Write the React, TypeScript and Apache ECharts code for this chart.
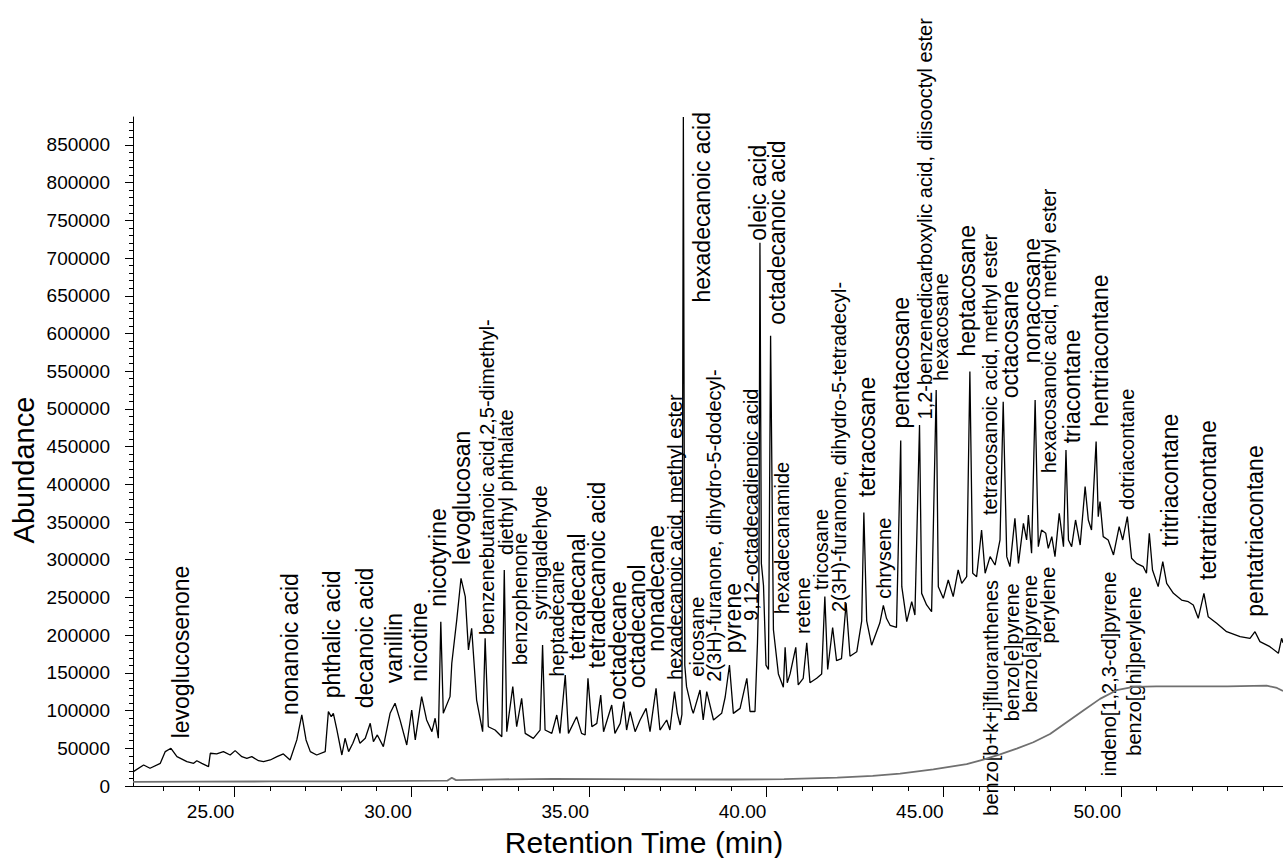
import React, { useEffect, useRef } from "react";
import * as echarts from "echarts";

// ---------- axis ranges & ticks ----------
const X_RANGE = [22.14, 54.57];
const Y_RANGE = [0, 887000];
const X_MAJOR_TICKS = [25, 30, 35, 40, 45, 50];
const X_MINOR_TICKS = [23, 24, 25, 26, 27, 28, 29, 30, 31, 32, 33, 34, 35, 36, 37, 38, 39, 40, 41, 42, 43, 44, 45, 46, 47, 48, 49, 50, 51, 52, 53, 54];
const Y_MAJOR_TICKS = [0, 50000, 100000, 150000, 200000, 250000, 300000, 350000, 400000, 450000, 500000, 550000, 600000, 650000, 700000, 750000, 800000, 850000];
const Y_MINOR_TICKS = Array.from({ length: 89 }, (_, i) => i * 10000);

// ---------- sample TIC (retention time min, abundance) ----------
const TIC_EARLY: [number, number][] = [
  [22.15, 19100], [22.44, 27900], [22.62, 23500], [22.91, 30100], [23.05, 45600], [23.21, 50000], [23.38, 38900],
  [23.66, 32300], [23.85, 30100], [23.94, 33500], [24.08, 30100], [24.27, 25700], [24.32, 43400], [24.5, 42500],
  [24.69, 45600], [24.88, 41100], [25.02, 46900], [25.21, 38900], [25.35, 36700], [25.49, 38900], [25.68, 33500],
  [25.82, 32300], [26.01, 34500], [26.2, 38900], [26.38, 42500], [26.57, 34500], [26.76, 61100], [26.9, 94200],
  [27.02, 61100], [27.14, 45600], [27.32, 41100], [27.56, 45600], [27.65, 98600], [27.73, 92000], [27.79, 96400],
  [27.89, 74300], [28.03, 41100], [28.12, 63300], [28.22, 45600], [28.34, 56600], [28.45, 69900], [28.54, 56600],
  [28.69, 63300], [28.83, 83100], [28.92, 58800], [29.03, 67700], [29.2, 52200], [29.39, 96400], [29.53, 109700],
  [29.67, 87600], [29.86, 54400], [30.0, 100800], [30.1, 61100], [30.28, 118500], [30.42, 87600], [30.57, 72100],
  [30.66, 89800], [30.75, 63300], [30.82, 217900], [30.89, 96400], [31.08, 118500], [31.13, 162700], [31.27, 220200],
  [31.39, 275400], [31.51, 251100], [31.6, 180400], [31.69, 209100], [31.83, 114000],
];
const TIC_MID: [number, number][] = [
  [32.0, 72000], [32.07, 195800], [32.16, 78600], [32.35, 74200], [32.54, 65400], [32.61, 286400], [32.68, 72000],
  [32.85, 131700], [32.96, 78600], [33.1, 116200], [33.2, 69800], [33.43, 63200], [33.62, 74200], [33.69, 186900],
  [33.76, 74200], [33.95, 69800], [34.09, 94100], [34.18, 69800], [34.33, 147200], [34.42, 69800], [34.65, 91900],
  [34.79, 69800], [34.89, 67600], [34.97, 142700], [35.08, 78600], [35.22, 83000], [35.33, 120600], [35.41, 72000],
  [35.64, 107400], [35.73, 69800], [35.88, 83000], [35.98, 111800], [36.06, 74200], [36.16, 98500], [36.3, 72000],
  [36.44, 87500], [36.61, 102900], [36.72, 72000], [36.89, 129500], [37.0, 74200], [37.19, 87500], [37.28, 74200],
  [37.41, 125100], [37.49, 96300], [37.57, 80900],
];
const TIC_ACIDS: [number, number][] = [
  [37.62, 95000], [37.66, 887000], [37.7, 160000], [37.75, 131700], [37.9, 101700], [37.94, 96300], [38.13, 127300],
  [38.22, 87500], [38.32, 125100], [38.51, 87500], [38.74, 96300], [38.84, 118000], [38.96, 160400], [39.07, 96300],
  [39.26, 102900], [39.45, 142800], [39.54, 98800], [39.68, 98800], [39.75, 189700], [39.79, 265900], [39.82, 720200],
  [39.86, 295000], [39.92, 265900], [39.99, 160300], [40.06, 154500], [40.12, 597100], [40.2, 207200], [40.34, 148600],
  [40.48, 131000], [40.53, 183800], [40.59, 136900], [40.67, 148600], [40.83, 183800], [40.9, 134000], [41.04, 142800],
  [41.14, 189700], [41.23, 136900], [41.42, 142800], [41.56, 148600], [41.65, 251200], [41.73, 154500], [41.87, 210200],
  [41.98, 166200], [42.12, 169000], [42.25, 242400], [42.36, 172100], [42.55, 177900], [42.69, 219000], [42.75, 362600],
  [42.83, 219000], [42.97, 186700], [43.2, 216000], [43.3, 239500], [43.39, 222000], [43.49, 213100], [43.67, 210200],
  [43.79, 458100],
];
const TIC_LATE: [number, number][] = [
  [43.82, 264300], [43.96, 217900], [44.1, 244400], [44.19, 226700], [44.32, 478700], [44.38, 255400], [44.52, 240000],
  [44.66, 231100], [44.79, 525100], [44.85, 264300], [44.99, 248800], [45.13, 273100], [45.27, 251000], [45.41, 286400],
  [45.51, 268700], [45.65, 277500], [45.74, 549400], [45.82, 282000], [45.93, 277500], [46.07, 339400], [46.17, 282000],
  [46.31, 304100], [46.45, 293000], [46.59, 326200], [46.68, 509600], [46.78, 304100], [46.87, 290800], [47.01, 354900],
  [47.11, 295200], [47.25, 348300], [47.34, 326200], [47.39, 359300], [47.48, 308500], [47.58, 511800], [47.67, 317300],
  [47.76, 339400], [47.88, 335000], [47.95, 315100], [48.05, 330600], [48.14, 304100], [48.26, 361500], [48.38, 317300],
  [48.45, 445500], [48.52, 326200], [48.61, 317300], [48.72, 352700], [48.85, 319500], [48.99, 396900], [49.08, 352700],
  [49.17, 339400], [49.3, 456600], [49.36, 357100], [49.41, 377000], [49.5, 330600], [49.64, 326200], [49.79, 306300],
  [49.95, 343800], [50.05, 326200], [50.18, 357100], [50.3, 301900], [50.44, 295200], [50.63, 290800], [50.72, 282000],
  [50.8, 335000], [50.89, 286400], [51.05, 264300], [51.18, 297400], [51.29, 268700], [51.48, 255400], [51.71, 246600],
  [51.9, 244400], [52.04, 240000], [52.18, 222300], [52.34, 255400], [52.46, 224500], [52.7, 215700], [52.98, 204600],
  [53.36, 198000], [53.64, 195800], [53.78, 204600], [53.92, 191400], [54.2, 184700], [54.44, 175900], [54.53, 195800],
  [54.57, 190000],
];

// ---------- blank / reference trace ----------
const BLANK_TRACE: [number, number][] = [
  [22.14, 5500], [24, 5800], [26, 6000], [28, 6200], [30, 6800], [31.0, 7000], [31.13, 11000], [31.25, 7800],
  [32.5, 8800], [34, 9500], [35.5, 9200], [37, 8800], [39, 8600], [40.5, 9000], [42, 11000], [43, 13500],
  [43.77, 16500], [44.71, 22000], [45.65, 29000], [46.12, 35000], [46.59, 42000], [47.06, 49500], [47.53, 58000],
  [48.0, 69000], [48.47, 84500], [48.94, 100000], [49.41, 115500], [49.88, 127000], [50.35, 131500], [51.0, 132000],
  [52, 132000], [53, 132000], [54.11, 133000], [54.4, 130000], [54.57, 126000],
];

// ---------- peak annotations: [name, retention time, abundance at text start] ----------
const LABELS_LARGE: [string, number, number][] = [
  ["levoglucosenone", 23.49, 63200],
  ["nonanoic acid", 26.57, 94100],
  ["phthalic acid", 27.75, 116300],
  ["decanoic acid", 28.69, 103000],
  ["vanillin", 29.5, 136200],
  ["nicotine", 30.21, 138300],
  ["nicotyrine", 30.75, 237800],
  ["levoglucosan", 31.41, 293000],
  ["tetradecanal", 34.65, 167100],
  ["tetradecanoic acid", 35.22, 156100],
  ["octadecane", 35.83, 114000],
  ["octadecanol", 36.35, 129500],
  ["nonadecane", 36.89, 178100],
  ["pyrene", 39.05, 175900],
  ["hexadecanoic acid", 38.18, 641000],
  ["oleic acid", 39.77, 723000],
  ["octadecanoic acid", 40.31, 611700],
  ["tetracosane", 42.83, 383200],
  ["pentacosane", 43.79, 473900],
  ["heptacosane", 45.67, 569300],
  ["octacosane", 46.87, 514100],
  ["nonacosane", 47.48, 560500],
  ["triacontane", 48.61, 454400],
  ["hentriacontane", 49.41, 476400],
  ["tritriacontane", 51.38, 317300],
  ["tetratriacontane", 52.46, 273200],
  ["pentatriacontane", 53.78, 224500],
];
const LABELS_SMALL: [string, number, number][] = [
  ["benzenebutanoic acid,2,5-dimethyl-", 32.13, 200200],
  ["diethyl phthalate", 32.66, 306300],
  ["benzophenone", 33.04, 160400],
  ["syringaldehyde", 33.62, 220100],
  ["heptadecane", 34.09, 145000],
  ["hexadecanoic acid, methyl ester", 37.43, 140600],
  ["eicosane", 38.04, 145000],
  ["2(3H)-furanone, dihydro-5-dodecyl-", 38.53, 138300],
  ["9,12-octadecadienoic acid", 39.56, 218900],
  ["hexadecanamide", 40.43, 227800],
  ["retene", 41.02, 201400],
  ["tricosane", 41.53, 259900],
  ["2(3H)-furanone, dihydro-5-tetradecyl-", 42.06, 230700],
  ["chrysene", 43.32, 248200],
  ["1,2-benzenedicarboxylic acid, diisooctyl ester", 44.48, 486000],
  ["hexacosane", 44.92, 537000],
  ["tetracosanoic acid, methyl ester", 46.31, 359300],
  ["hexacosanoic acid, methyl ester", 47.97, 414600],
  ["dotriacontane", 50.18, 366000],
];
// labels hanging below the trace: [name, retention time, abundance at text end (top)]
const LABELS_BELOW: [string, number, number][] = [
  ["benzo[b+k+j]fluoranthenes", 46.33, 273200],
  ["benzo[e]pyrene", 46.92, 268800],
  ["benzo[a]pyrene", 47.44, 279800],
  ["perylene", 47.95, 290800],
  ["indeno[1,2,3-cd]pyrene", 49.67, 284200],
  ["benzo[ghi]perylene", 50.37, 264300],
];

const FONT = 'Arial, "Liberation Sans", Helvetica, sans-serif';

export default function App() {
  const ref = useRef<HTMLDivElement>(null);

  useEffect(() => {
    if (!ref.current) return;
    const chart = echarts.init(ref.current, undefined, { renderer: "svg" });
    const tic = [...TIC_EARLY, ...TIC_MID, ...TIC_ACIDS, ...TIC_LATE];

    const axisLineStyle = { color: "#000", width: 1 };
    chart.setOption({
      animation: false,
      backgroundColor: "#ffffff",
      grid: { left: 133, right: 0, top: 117, bottom: 72, containLabel: false },
      xAxis: [
        {
          type: "value", min: X_RANGE[0], max: X_RANGE[1], position: "bottom",
          axisLine: { show: true, lineStyle: axisLineStyle },
          axisTick: { show: true, length: 11, customValues: X_MAJOR_TICKS, lineStyle: axisLineStyle },
          axisLabel: {
            show: true, customValues: X_MAJOR_TICKS, formatter: (v: number) => v.toFixed(2),
            align: "right", margin: 16, fontSize: 19, color: "#000", fontFamily: FONT,
          },
          splitLine: { show: false },
        },
        {
          type: "value", min: X_RANGE[0], max: X_RANGE[1], position: "bottom",
          axisLine: { show: false },
          axisTick: { show: true, length: 5, customValues: X_MINOR_TICKS, lineStyle: axisLineStyle },
          axisLabel: { show: false },
          splitLine: { show: false },
        },
      ],
      yAxis: [
        {
          type: "value", min: Y_RANGE[0], max: Y_RANGE[1], position: "left",
          axisLine: { show: true, lineStyle: axisLineStyle },
          axisTick: { show: true, length: 8, customValues: Y_MAJOR_TICKS, lineStyle: axisLineStyle },
          axisLabel: {
            show: true, customValues: Y_MAJOR_TICKS, formatter: (v: number) => String(v),
            margin: 23, fontSize: 19, color: "#000", fontFamily: FONT,
          },
          splitLine: { show: false },
        },
        {
          type: "value", min: Y_RANGE[0], max: Y_RANGE[1], position: "left",
          axisLine: { show: false },
          axisTick: { show: true, length: 4, customValues: Y_MINOR_TICKS, lineStyle: axisLineStyle },
          axisLabel: { show: false },
          splitLine: { show: false },
        },
      ],
      series: [
        {
          type: "line", xAxisIndex: 0, yAxisIndex: 0, data: tic, symbol: "none", showSymbol: false,
          lineStyle: { color: "#000", width: 1.3 }, z: 3,
        },
        {
          type: "line", xAxisIndex: 0, yAxisIndex: 0, data: BLANK_TRACE, symbol: "none", showSymbol: false,
          lineStyle: { color: "#707070", width: 1.8 }, z: 2,
        },
      ],
    });

    const toPx = (t: number, v: number) =>
      chart.convertToPixel({ seriesIndex: 0 }, [t, v]) as number[];

    const mk = (name: string, t: number, v: number, size: number, below: boolean) => {
      const p = toPx(t, v);
      const align = below ? "right" : "left";
      return {
        type: "text", x: p[0], y: p[1], rotation: Math.PI / 2, silent: true,
        style: {
          text: name, fontSize: size, fontFamily: FONT, fill: "#000",
          align, textAlign: align, verticalAlign: "middle", textVerticalAlign: "middle",
        },
      };
    };

    const elements: any[] = [
      ...LABELS_LARGE.map(([n, t, v]) => mk(n, t, v, 23, false)),
      ...LABELS_SMALL.map(([n, t, v]) => mk(n, t, v, 20, false)),
      ...LABELS_BELOW.map(([n, t, v]) => mk(n, t, v, 20, true)),
      {
        type: "text", x: 24, y: 470, rotation: Math.PI / 2, silent: true,
        style: { text: "Abundance", fontSize: 29, fontFamily: FONT, fill: "#000", align: "center", textAlign: "center", verticalAlign: "middle", textVerticalAlign: "middle" },
      },
      {
        type: "text", x: 644, y: 842, silent: true,
        style: { text: "Retention Time (min)", fontSize: 30, fontFamily: FONT, fill: "#000", align: "center", textAlign: "center", verticalAlign: "middle", textVerticalAlign: "middle" },
      },
    ];
    chart.setOption({ graphic: { elements } });

    return () => chart.dispose();
  }, []);

  return (
    <div
      ref={ref}
      style={{ position: "absolute", left: 0, top: 0, width: 1283, height: 858, background: "#fff" }}
    />
  );
}
